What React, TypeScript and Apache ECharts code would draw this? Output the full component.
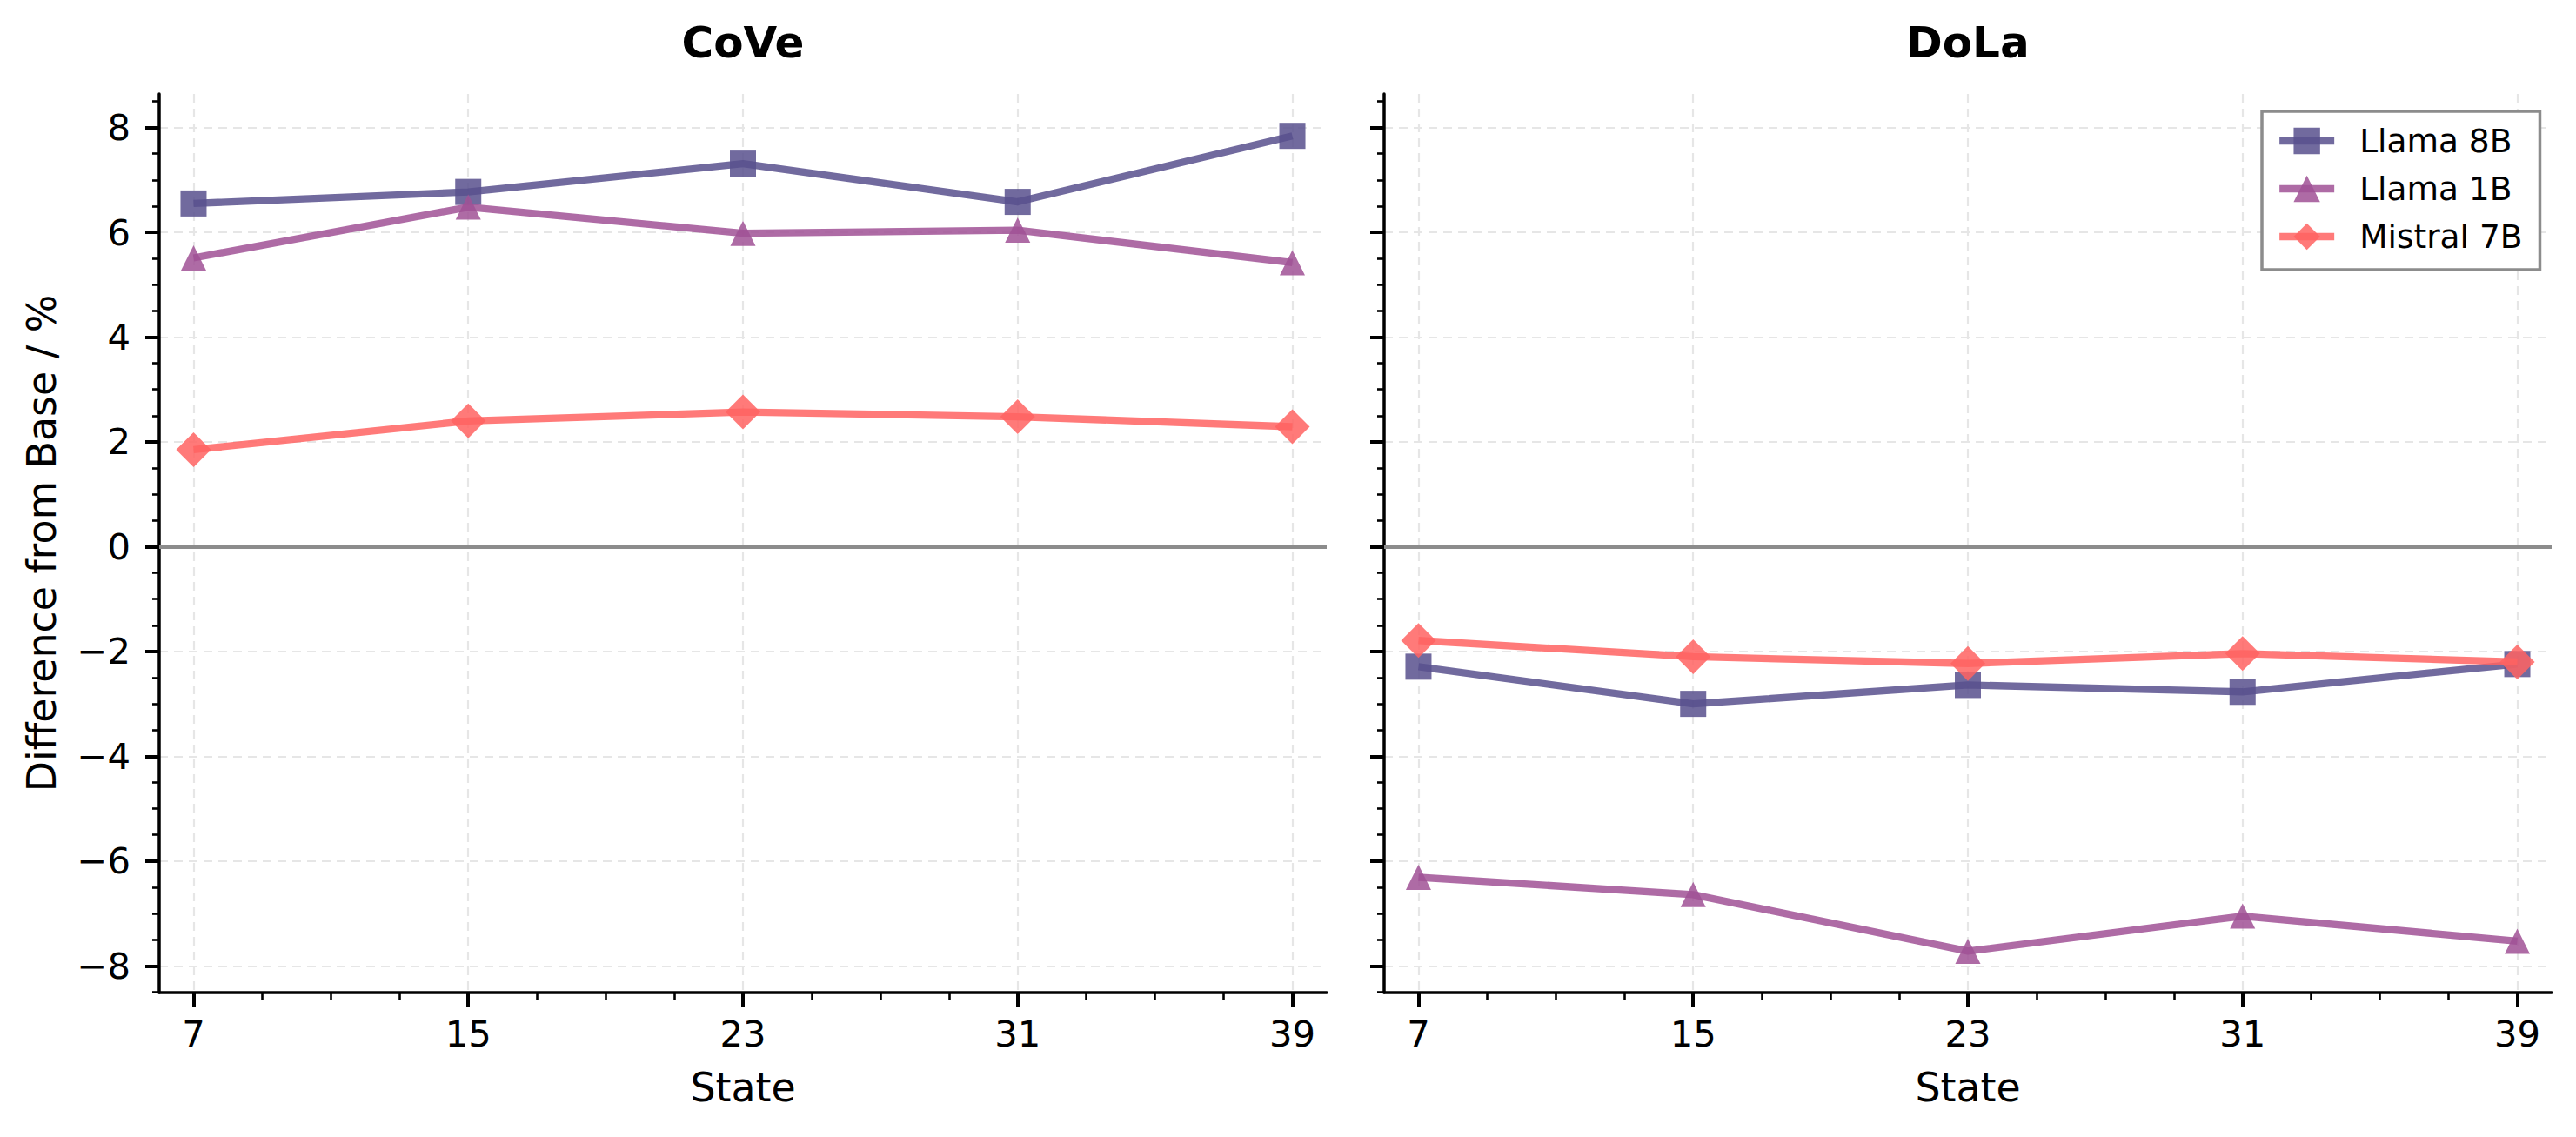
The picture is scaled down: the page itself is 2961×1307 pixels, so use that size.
import React, { useEffect, useRef } from "react";
import * as echarts from "echarts";

// ---- data ----
const states = [7, 15, 23, 31, 39];
const panelTitles = ["CoVe", "DoLa"];
const seriesNames = ["Llama 8B", "Llama 1B", "Mistral 7B"];

const coveLlama8B = [6.55, 6.77, 7.31, 6.58, 7.84];
const coveLlama1B = [5.51, 6.48, 5.98, 6.04, 5.42];
const coveMistral7B = [1.85, 2.4, 2.57, 2.48, 2.29];

const dolaLlama8B = [-2.29, -3.0, -2.64, -2.77, -2.24];
const dolaLlama1B = [-6.31, -6.64, -7.72, -7.05, -7.53];
const dolaMistral7B = [-1.79, -2.1, -2.23, -2.04, -2.2];

const xMajorTicks = [7, 15, 23, 31, 39];
const xMinorTicks = [7, 9, 11, 13, 15, 17, 19, 21, 23, 25, 27, 29, 31, 33, 35, 37, 39];
const yMajorTicks = [-8, -6, -4, -2, 0, 2, 4, 6, 8];
const yMinorTicks = [
  -8.5, -8, -7.5, -7, -6.5, -6, -5.5, -5, -4.5, -4, -3.5, -3, -2.5, -2, -1.5, -1, -0.5,
  0, 0.5, 1, 1.5, 2, 2.5, 3, 3.5, 4, 4.5, 5, 5.5, 6, 6.5, 7, 7.5, 8, 8.5,
];

const xLabel = "State";
const yLabel = "Difference from Base / %";

// ---- styling ----
const FONT = "DejaVu Sans";
const colors = ["#58508d", "#a05195", "#ff6361"];
const symbols = ["rect", "triangle", "diamond"];
const symbolSizes = [30, 29, 40];

const W = 2961;
const H = 1307;
const gridTop = 108;
const gridHeight = 1033;
const gridWidth = 1342;
const gridLefts = [183, 1591];
const X_MIN = 6;
const X_MAX = 40;
const Y_MIN = -8.51;
const Y_MAX = 8.64;

const fmtMinus = (v: number) => (v < 0 ? "\u2212" + Math.abs(v) : String(v));

export default function App() {
  const ref = useRef<HTMLDivElement>(null);

  useEffect(() => {
    document.body.style.margin = "0";
    if (!ref.current) return;
    const chart = echarts.init(ref.current, undefined, { renderer: "svg" });

    const panelData = [
      [coveLlama8B, coveLlama1B, coveMistral7B],
      [dolaLlama8B, dolaLlama1B, dolaMistral7B],
    ];

    const grids = gridLefts.map((left) => ({
      left,
      top: gridTop,
      width: gridWidth,
      height: gridHeight,
      containLabel: false,
    }));

    const xAxes: any[] = [];
    const yAxes: any[] = [];
    [0, 1].forEach((g) => {
      xAxes.push({
        type: "value",
        gridIndex: g,
        min: X_MIN,
        max: X_MAX,
        position: "bottom",
        axisLine: { show: true, onZero: false, lineStyle: { color: "#000", width: 3.5 } },
        axisTick: {
          show: true,
          customValues: xMajorTicks,
          length: 16,
          lineStyle: { color: "#000", width: 4 },
        },
        axisLabel: {
          show: true,
          customValues: xMajorTicks,
          fontSize: 41.7,
          fontFamily: FONT,
          color: "#000",
          margin: 26,
        },
        splitLine: {
          show: true,
          lineStyle: { color: "#e6e6e6", width: 2.2, type: [10, 7] },
        },
        minorTick: { show: false },
      });
      xAxes.push({
        type: "value",
        gridIndex: g,
        min: X_MIN,
        max: X_MAX,
        position: "bottom",
        axisLine: { show: false, onZero: false },
        axisTick: {
          show: true,
          customValues: xMinorTicks,
          length: 8,
          lineStyle: { color: "#000", width: 2.6 },
        },
        axisLabel: { show: false },
        splitLine: { show: false },
      });
      yAxes.push({
        type: "value",
        gridIndex: g,
        min: Y_MIN,
        max: Y_MAX,
        position: "left",
        axisLine: { show: true, onZero: false, lineStyle: { color: "#000", width: 3.5 } },
        axisTick: {
          show: true,
          customValues: yMajorTicks,
          length: 16,
          lineStyle: { color: "#000", width: 4 },
        },
        axisLabel: {
          show: g === 0,
          customValues: yMajorTicks,
          fontSize: 41.7,
          fontFamily: FONT,
          color: "#000",
          margin: 33,
          formatter: (v: number) => fmtMinus(v),
        },
        splitLine: {
          show: true,
          lineStyle: { color: "#e6e6e6", width: 2.2, type: [10, 7] },
        },
      });
      yAxes.push({
        type: "value",
        gridIndex: g,
        min: Y_MIN,
        max: Y_MAX,
        position: "left",
        axisLine: { show: false, onZero: false },
        axisTick: {
          show: true,
          customValues: yMinorTicks,
          length: 8,
          lineStyle: { color: "#000", width: 2.6 },
        },
        axisLabel: { show: false },
        splitLine: { show: false },
      });
    });

    const series: any[] = [];
    [0, 1].forEach((p) => {
      seriesNames.forEach((name, k) => {
        const s: any = {
          type: "line",
          name,
          xAxisIndex: p * 2,
          yAxisIndex: p * 2,
          data: states.map((st, i) => [st, panelData[p][k][i]]),
          symbol: symbols[k],
          symbolSize: symbolSizes[k],
          showSymbol: true,
          lineStyle: { color: colors[k], width: 8.3, opacity: 0.85 },
          itemStyle: { color: colors[k], opacity: 0.85 },
          emphasis: { disabled: true },
          z: 3 + k,
        };
        if (k === 0) {
          s.markLine = {
            silent: true,
            symbol: "none",
            label: { show: false },
            lineStyle: { color: "#8c8c8c", width: 4, type: "solid", opacity: 1 },
            emphasis: { disabled: true },
            data: [{ yAxis: 0 }],
            z: 1,
          };
        }
        series.push(s);
      });
    });

    const graphic: any[] = [];
    panelTitles.forEach((t, i) => {
      graphic.push({
        type: "text",
        x: gridLefts[i] + gridWidth / 2,
        y: 49,
        style: {
          text: t,
          fontFamily: FONT,
          fontSize: 50,
          fontWeight: "bold",
          fill: "#000",
          align: "center",
          verticalAlign: "middle",
        },
      });
      graphic.push({
        type: "text",
        x: gridLefts[i] + gridWidth / 2,
        y: 1250,
        style: {
          text: xLabel,
          fontFamily: FONT,
          fontSize: 45.8,
          fill: "#000",
          align: "center",
          verticalAlign: "middle",
        },
      });
    });
    graphic.push({
      type: "text",
      x: 48,
      y: gridTop + gridHeight / 2,
      rotation: Math.PI / 2,
      style: {
        text: yLabel,
        fontFamily: FONT,
        fontSize: 45.8,
        fill: "#000",
        align: "center",
        verticalAlign: "middle",
      },
    });

    chart.setOption({
      animation: false,
      backgroundColor: "#fff",
      textStyle: { fontFamily: FONT },
      grid: grids,
      xAxis: xAxes,
      yAxis: yAxes,
      series,
      graphic,
      legend: {
        show: true,
        orient: "vertical",
        left: 2600,
        top: 128,
        itemWidth: 63,
        itemHeight: 38,
        itemGap: 17,
        padding: [15, 20, 19, 16],
        borderColor: "#8c8c8c",
        borderWidth: 3.5,
        borderRadius: 0,
        backgroundColor: "#fff",
        selectedMode: false,
        data: seriesNames,
        lineStyle: { width: 8.3, opacity: 0.85 },
        itemStyle: { opacity: 0.85 },
        textStyle: {
          fontFamily: FONT,
          fontSize: 37.5,
          color: "#000",
          padding: [0, 0, 0, 24],
        },
      },
    });

    return () => chart.dispose();
  }, []);

  return (
    <div
      ref={ref}
      style={{ position: "absolute", left: 0, top: 0, width: W, height: H }}
    />
  );
}
